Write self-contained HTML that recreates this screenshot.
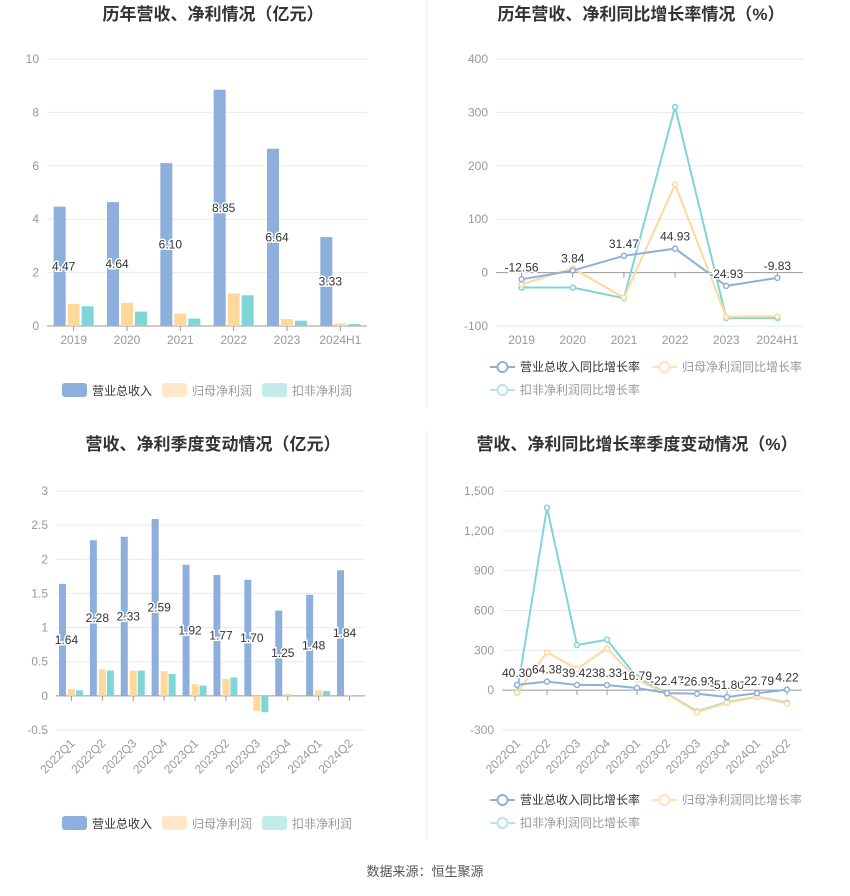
<!DOCTYPE html>
<html><head><meta charset="utf-8">
<style>
html,body{margin:0;padding:0;background:#fff;}
body{width:850px;height:891px;overflow:hidden;font-family:"Liberation Sans","Noto Sans CJK SC",sans-serif;}
svg text{font-family:"Liberation Sans","Noto Sans CJK SC",sans-serif;}
</style></head>
<body>
<svg id="root" width="850" height="891" xmlns="http://www.w3.org/2000/svg">
<line x1="427" y1="0" x2="427" y2="408" stroke="#eeeeee"/>
<line x1="427" y1="430" x2="427" y2="840" stroke="#eeeeee"/>
<text x="425" y="876" text-anchor="middle" font-size="13" fill="#555">数据来源：恒生聚源</text>
</svg>
<script>
// ---- Chart 1 data: annual revenue & profit (亿元)
const annualCats = ["2019","2020","2021","2022","2023","2024H1"];
const annualRevenue = [4.47,4.64,6.10,8.85,6.64,3.33];
const annualNetProfit = [0.83,0.87,0.47,1.22,0.26,0.09];
const annualDeducted = [0.74,0.54,0.28,1.15,0.20,0.07];
const annualTicks = [0,2,4,6,8,10];
// ---- Chart 2 data: annual growth (%)
const growthRevenue = [-12.56,3.84,31.47,44.93,-24.93,-9.83];
const growthNetProfit = [-22,8,-47,165,-83,-82];
const growthDeducted = [-28,-28,-48,310,-85,-85];
const growthTicks = [-100,0,100,200,300,400];
// ---- Chart 3 data: quarterly
const qCats = ["2022Q1","2022Q2","2022Q3","2022Q4","2023Q1","2023Q2","2023Q3","2023Q4","2024Q1","2024Q2"];
const qRevenue = [1.64,2.28,2.33,2.59,1.92,1.77,1.70,1.25,1.48,1.84];
const qNetProfit = [0.10,0.39,0.37,0.36,0.17,0.25,-0.22,0.03,0.08,0.01];
const qDeducted = [0.08,0.37,0.37,0.32,0.15,0.27,-0.24,0.01,0.07,0.00];
const qTicks = [-0.5,0,0.5,1,1.5,2,2.5,3];
// ---- Chart 4 data: quarterly growth
const qgRevenue = [40.30,64.38,39.42,38.33,16.79,-22.47,-26.93,-51.80,-22.79,4.22];
const qgNetProfit = [-20,285,160,315,80,-30,-165,-95,-50,-100];
const qgDeducted = [-20,1375,340,380,95,-25,-160,-90,-50,-95];
const qgTicks = [-300,0,300,600,900,1200,1500];

const NS="http://www.w3.org/2000/svg";
const root=document.getElementById('root');
const BLUE="#8eaedc",ORANGE="#ffd89c",TEAL="#80d5d6";
function mk(tag,attrs,parent){const e=document.createElementNS(NS,tag);for(const k in attrs)e.setAttribute(k,attrs[k]);(parent||root).appendChild(e);return e;}
function fmt(v){return Math.abs(v)>=1000?v.toLocaleString('en-US'):String(v);}

function axes(g,o){
  const yS=v=>o.y0-(v-o.min)/(o.max-o.min)*(o.y0-o.y1);
  const band=(o.x1-o.x0)/o.cats.length;
  const xS=i=>o.x0+band*(i+0.5);
  o.ticks.forEach(t=>{
    const gl=mk('line',{x1:o.x0,x2:o.x1,y1:yS(t),y2:yS(t),stroke:t===0?"#999":"#e6e9f4"},g);
    
    
    const tl=mk('text',{x:o.x0-8,y:yS(t)+4,'text-anchor':'end','font-size':12,fill:'#999'},g);
    tl.textContent=o.fmt?fmt(t):t;
    
    
  });
  const z=yS(0);
  o.cats.forEach((c,i)=>{
    const tk=mk('line',{x1:xS(i),x2:xS(i),y1:z,y2:z+5,stroke:"#999"},g);
    
    
    let lbl;
    if(o.rot){
      const lx=xS(i)+4, ly=o.y0+14;
      lbl=mk('text',{x:lx,y:ly,'text-anchor':'end','font-size':12,fill:'#999',transform:`rotate(-45 ${lx} ${ly})`},g);
    } else {
      lbl=mk('text',{x:xS(i),y:o.y0+18,'text-anchor':'middle','font-size':12,fill:'#999'},g);
    }
    lbl.textContent=c;
    
    
  });
  return {xS,yS,band};
}
function title(x,t){
  const e=mk('text',{x:x,y:20,'text-anchor':'middle','font-size':17,'font-weight':'bold',fill:'#333'});
  e.textContent=t;return e;
}
function label(g,x,y,t){
  const e=mk('text',{x:x,y:y,'text-anchor':'middle','font-size':12,fill:'#333',stroke:'#fff','stroke-width':3,'paint-order':'stroke'},g);
  e.textContent=t;
}
function barChart(o){
  const g=mk('g',{});
  
  const a=axes(g,o);
  const series=[[o.s1,BLUE,o.off[0],'bar-revenue'],[o.s2,ORANGE,o.off[1],'bar-net-profit'],[o.s3,TEAL,o.off[2],'bar-deducted-profit']];
  series.forEach(([arr,col,off,nm])=>{
    arr.forEach((v,i)=>{
      const y=Math.min(a.yS(v),a.yS(0)),h=Math.abs(a.yS(v)-a.yS(0));
      const r=mk('rect',{x:a.xS(i)+off-o.bw/2,y:y,width:o.bw,height:h,fill:col},g);
      
      
    });
  });
  o.s1.forEach((v,i)=>label(g,a.xS(i)+o.off[0]+4,(a.yS(v)+a.yS(0))/2+4,v.toFixed(2)));
}
function lineChart(o){
  const g=mk('g',{});
  
  const a=axes(g,o);
  [[o.s3,TEAL,'line-deducted-growth'],[o.s2,ORANGE,'line-net-profit-growth'],[o.s1,BLUE,'line-revenue-growth']].forEach(([arr,col,nm])=>{
    const p=mk('polyline',{points:arr.map((v,i)=>a.xS(i)+','+a.yS(v)).join(' '),fill:'none',stroke:col,'stroke-width':2},g);
    
    arr.forEach((v,i)=>{
      const c=mk('circle',{cx:a.xS(i),cy:a.yS(v),r:2.5,fill:'#fff',stroke:col,'stroke-width':1.5},g);
      
    });
  });
  o.s1.forEach((v,i)=>label(g,a.xS(i),a.yS(v)-8,v.toFixed(2)));
}
function barLegend(y){
  [[62,BLUE,'营业总收入','#333'],[162,'#fde9c9','归母净利润','#999'],[262,'#c3ebeb','扣非净利润','#999']].forEach(([x,c,t,tc])=>{
    const r=mk('rect',{x:x,y:y-7,width:25,height:14,rx:3,fill:c});
    
    const e=mk('text',{x:x+30,y:y+5,'font-size':12,fill:tc});e.textContent=t;
    
  });
}
function lineLegend(y){
  [[490,y,BLUE,'营业总收入同比增长率','#333'],[652,y,'#fde2b8','归母净利润同比增长率','#999'],[490,y+23,'#b5e6e6','扣非净利润同比增长率','#999']].forEach(([x,yy,c,t,tc])=>{
    const l=mk('line',{x1:x,x2:x+25,y1:yy,y2:yy,stroke:c,'stroke-width':2});
    
    const ci=mk('circle',{cx:x+12.5,cy:yy,r:5,fill:'#fff',stroke:c,'stroke-width':2});
    
    const e=mk('text',{x:x+30,y:yy+4,'font-size':12,fill:tc});e.textContent=t;
    
  });
}

title(213,'历年营收、净利情况（亿元）');
title(641,'历年营收、净利同比增长率情况（%）');
const t3=title(213,'营收、净利季度变动情况（亿元）');t3.setAttribute('y',450);
const t4=title(637,'营收、净利同比增长率季度变动情况（%）');t4.setAttribute('y',450);

barChart({name:'annual-bar-chart',cats:annualCats,s1:annualRevenue,s2:annualNetProfit,s3:annualDeducted,ticks:annualTicks,min:0,max:10,y0:326,y1:59,x0:47,x1:367,bw:12,off:[-14,0,14]});
lineChart({name:'annual-growth-chart',cats:annualCats,s1:growthRevenue,s2:growthNetProfit,s3:growthDeducted,ticks:growthTicks,min:-100,max:400,y0:326,y1:59,x0:496,x1:803});
barChart({name:'quarterly-bar-chart',cats:qCats,s1:qRevenue,s2:qNetProfit,s3:qDeducted,ticks:qTicks,min:-0.5,max:3,y0:730,y1:491,x0:56,x1:365,bw:7,off:[-9,0,8],rot:true});
lineChart({name:'quarterly-growth-chart',cats:qCats,s1:qgRevenue,s2:qgNetProfit,s3:qgDeducted,ticks:qgTicks,min:-300,max:1500,y0:730,y1:491,x0:502,x1:802,rot:true,fmt:true});
barLegend(390);lineLegend(367);
barLegend(823);lineLegend(800);
</script>
</body></html>
